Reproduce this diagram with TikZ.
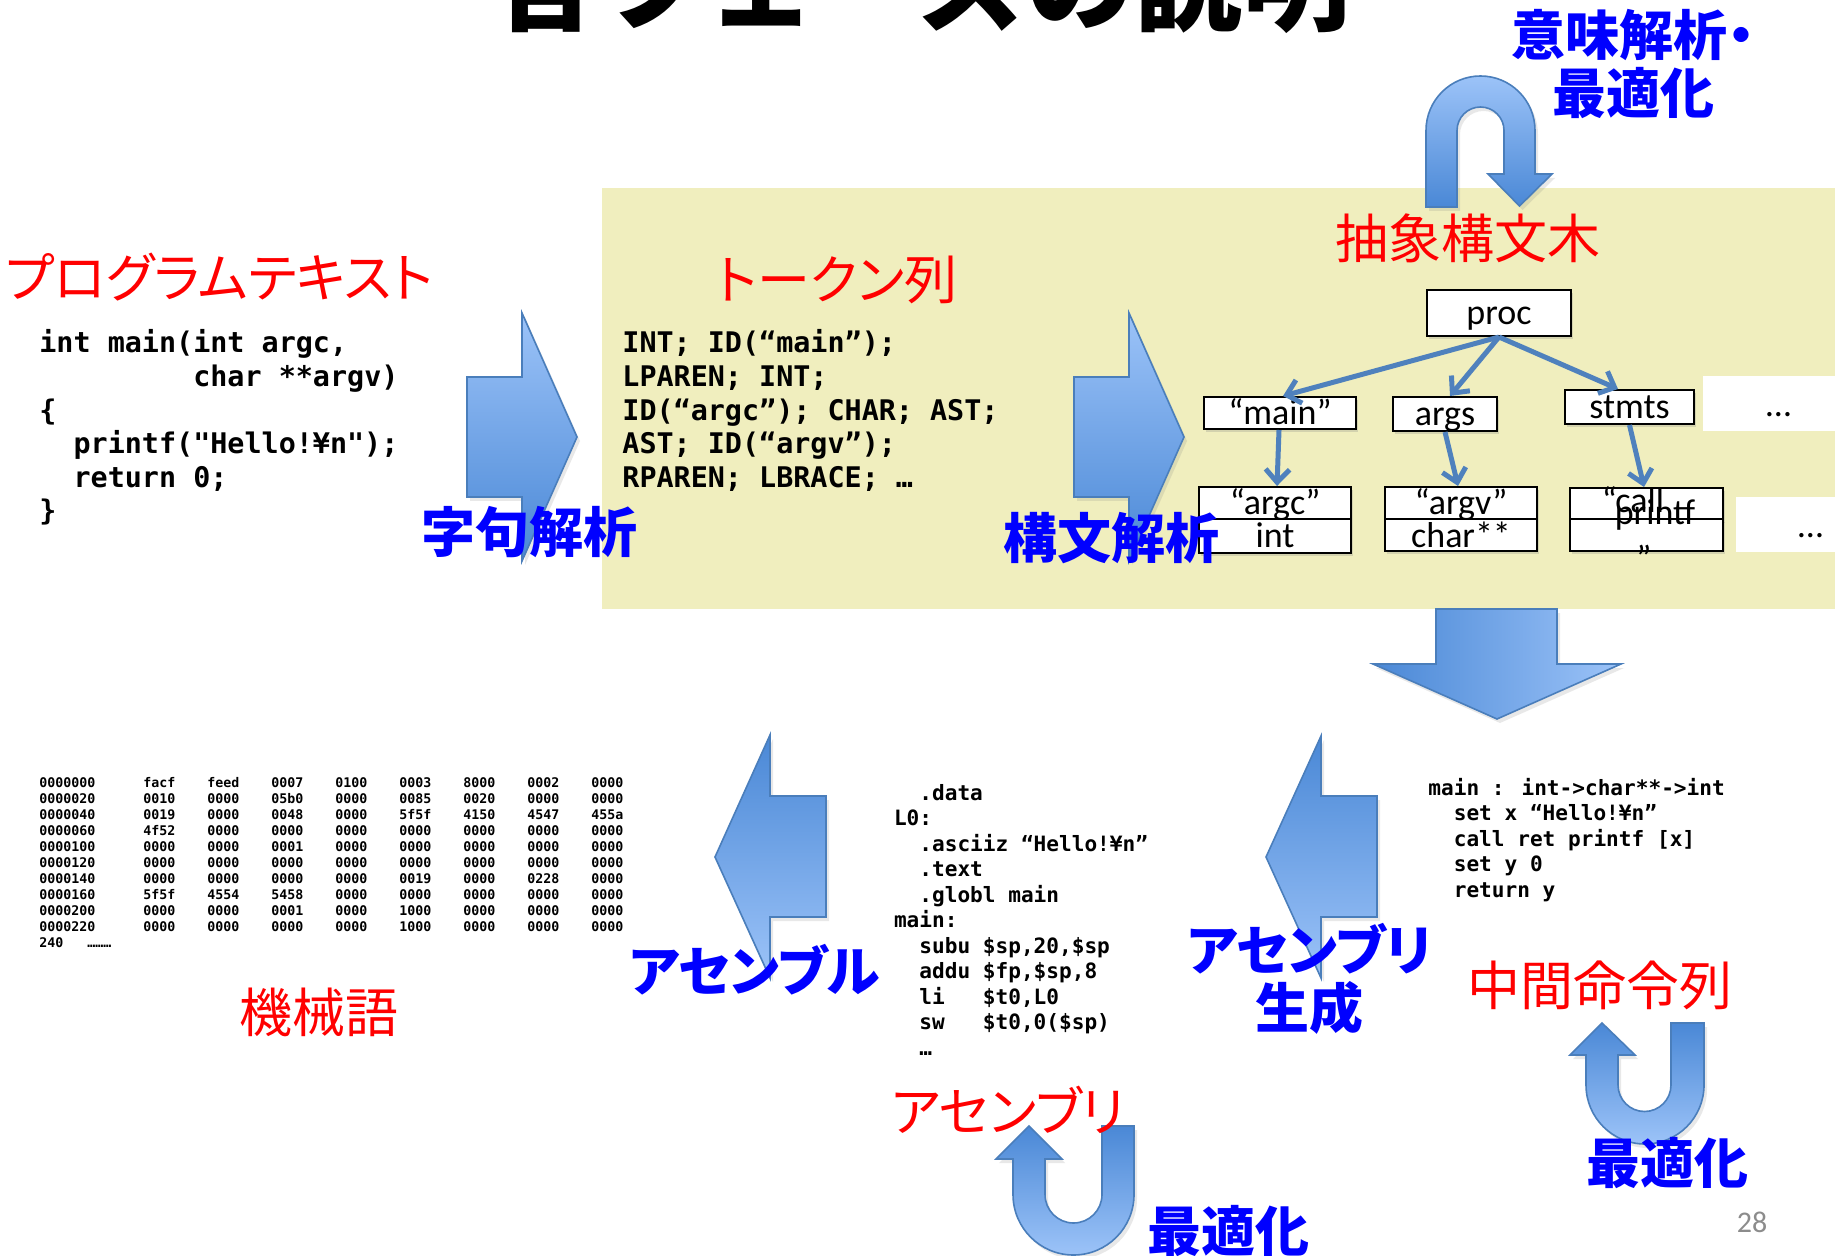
\documentclass[tikz,border=0pt]{standalone}
\usepackage{fontspec}
\usetikzlibrary{arrows.meta,shadows}
\newfontfamily\jpfont{Noto Sans CJK JP}[RawFeature=+palt]
\newfontfamily\jptitlefont{Noto Sans CJK JP}
\newfontfamily\codefont{DejaVu Sans Mono}
\newfontfamily\nodefont{Carlito}
\definecolor{panelY}{RGB}{240,238,190}
\definecolor{edgeB}{HTML}{4F81BD}
\definecolor{arrB}{HTML}{4A7EBB}
\definecolor{lightB}{HTML}{9CC3F8}
\definecolor{darkB}{HTML}{4A88D6}
\definecolor{pureR}{RGB}{255,0,0}
\definecolor{pureB}{RGB}{0,0,255}
\definecolor{pgGray}{HTML}{8C8C8C}
\newcommand\hexrow[9]{\makebox[52pt][l]{#1}\makebox[32pt][l]{#2}\makebox[32pt][l]{#3}\makebox[32pt][l]{#4}\makebox[32pt][l]{#5}\makebox[32pt][l]{#6}\makebox[32pt][l]{#7}\makebox[32pt][l]{#8}#9}
\tikzset{
  redlab/.style={text=pureR, inner sep=0pt, font=\jpfont\fontsize{26.5pt}{30pt}\selectfont},
  bluelab/.style={text=pureB, inner sep=0pt, align=center, font=\jpfont\bfseries\fontsize{27pt}{29pt}\selectfont},
  bigcode/.style={inner sep=0pt, anchor=base west, font=\codefont\bfseries\fontsize{14.2pt}{16.8pt}\selectfont},
  midcode/.style={inner sep=0pt, anchor=base west, font=\codefont\bfseries\fontsize{10.55pt}{12.75pt}\selectfont},
  hexcode/.style={inner sep=0pt, anchor=base west, font=\codefont\bfseries\fontsize{6.64pt}{8pt}\selectfont},
  treebox/.style={draw=black, line width=1pt, fill=white, inner sep=0pt,
    font=\nodefont\fontsize{18pt}{20pt}\selectfont, text height=14pt, text depth=2pt,
    drop shadow={shadow xshift=1pt, shadow yshift=-1.5pt, opacity=0.25}},
  treetext/.style={inner sep=0pt, anchor=base, font=\nodefont\fontsize{18pt}{20pt}\selectfont},
  treeedge/.style={draw=edgeB, line width=2.5pt, -{Straight Barb[length=6.5pt,width=12pt]}},
  blockarrow/.style={draw=arrB, line width=0.8pt,
    drop shadow={shadow xshift=1.5pt, shadow yshift=-2pt, opacity=0.18}},
  dotbox/.style={fill=white, inner sep=0pt},
}
\begin{document}
\begin{tikzpicture}[x=0.5pt, y=-0.5pt]
\useasboundingbox (0,0) rectangle (1841,1256);
\fill[white] (0,0) rectangle (1841,1256);

% title (cut off at top)
\begin{scope}
\clip (0,0) rectangle (1841,1256);
\node[inner sep=0pt, anchor=base west, font=\jptitlefont\bfseries\fontsize{54pt}{60pt}\selectfont] (title) at (491,23) {各フェーズの説明};
\end{scope}

% yellow panel
\fill[panelY] (602,188) rectangle (1835,609);
\node[dotbox, minimum width=66.5pt, minimum height=27.5pt] (dotsA) at (1769.5,403.5) {};
\node[dotbox, minimum width=50pt, minimum height=27.5pt] (dotsB) at (1786,524.5) {};
\node[treetext] (dotsAt) at (1778.5,417) {…};
\node[treetext] (dotsBt) at (1810.5,538) {…};

% tree
\node[treebox, minimum width=72pt, minimum height=23pt] (proc) at (1499,313) {proc};
\node[treebox, minimum width=76pt, minimum height=16pt] (main) at (1280,413) {“main”};
\node[treebox, minimum width=52pt, minimum height=17pt] (args) at (1445,414) {args};
\node[treebox, minimum width=64.5pt, minimum height=17pt] (stmts) at (1629.5,407) {stmts};
\node[treebox, minimum width=76pt, minimum height=16pt] (argc) at (1275,503) {“argc”};
\node[treebox, minimum width=76pt, minimum height=17pt] (int) at (1275,536) {int};
\node[treebox, minimum width=76.25pt, minimum height=16pt] (argv) at (1461,503) {“argv”};
\node[treebox, minimum width=76.25pt, minimum height=16pt] (charpp) at (1461,535) {char**};
\node[treebox, minimum width=76.5pt, minimum height=15pt] (callA) at (1646.5,504) {};
\node[treebox, minimum width=76.5pt, minimum height=16pt] (callB) at (1646.5,535) {};
\node[treetext] (callT1) at (1633,513) {“call};
\node[treetext] (callT2) at (1655,524) {printf};
\node[treetext] (callT3) at (1644,570) {”};

\draw[treeedge] (proc.south) -- ([xshift=1.5pt]main.north);
\draw[treeedge] (proc.south) -- ([xshift=2.5pt]args.north);
\draw[treeedge] (proc.south) -- ([xshift=-5.75pt]stmts.north);
\draw[treeedge] ([xshift=-0.5pt]main.south) -- ([xshift=1pt]argc.north);
\draw[treeedge] (args.south) -- ([xshift=-1.5pt]argv.north);
\draw[treeedge] (stmts.south) -- ([xshift=-1.25pt]callA.north);

% block arrows
\path[blockarrow, top color=lightB, bottom color=darkB]
  (467,377) -- (522,377) -- (522,313) -- (577,437) -- (522,561) -- (522,497) -- (467,497) -- cycle;
\path[blockarrow, top color=lightB, bottom color=darkB]
  (1074,377) -- (1129,377) -- (1129,313) -- (1184,437) -- (1129,561) -- (1129,497) -- (1074,497) -- cycle;
\path[blockarrow, left color=darkB, right color=lightB]
  (1436,609) -- (1557,609) -- (1557,664) -- (1621,664) -- (1497,719) -- (1373,664) -- (1436,664) -- cycle;
\path[blockarrow, top color=darkB, bottom color=lightB]
  (1377,796) -- (1321,796) -- (1321,736) -- (1266,857) -- (1321,978) -- (1321,917) -- (1377,917) -- cycle;
\path[blockarrow, top color=darkB, bottom color=lightB]
  (826,796) -- (770,796) -- (770,735) -- (715,857) -- (770,978) -- (770,917) -- (826,917) -- cycle;

% U-turn arrows
\path[blockarrow, top color=lightB, bottom color=darkB]
  (1426,207) -- (1426,130.5) arc[start angle=180, end angle=360, radius=54.5]
  -- (1535,174) -- (1552,174) -- (1519.5,206) -- (1488,174) -- (1504,174)
  -- (1504,130.5) arc[start angle=0, end angle=-180, radius=23.5] -- (1457,207) -- cycle;
\path[blockarrow, top color=darkB, bottom color=lightB]
  (1704,1023) -- (1704,1085) arc[start angle=0, end angle=180, radius=59]
  -- (1586,1055) -- (1570,1055) -- (1602,1023) -- (1635,1055) -- (1618,1055)
  -- (1618,1085) arc[start angle=180, end angle=0, radius=26.5] -- (1671,1023) -- cycle;
\path[blockarrow, top color=darkB, bottom color=lightB]
  (1134,1126) -- (1134,1194.5) arc[start angle=0, end angle=180, radius=60.5]
  -- (1013,1159) -- (996,1159) -- (1029,1126) -- (1062,1159) -- (1045,1159)
  -- (1045,1194.5) arc[start angle=180, end angle=0, radius=28.5] -- (1102,1126) -- cycle;

% program text
\node[bigcode] (p0) at (39,353) {int main(int argc,};
\node[bigcode] (p1) at (192.9,386.6) {char **argv)};
\node[bigcode] (p2) at (39,420.2) {\{};
\node[bigcode] (p3) at (73.2,453.8) {printf("Hello!¥n");};
\node[bigcode] (p4) at (73.2,487.4) {return 0;};
\node[bigcode] (p5) at (39,521) {\}};

% token list
\node[bigcode] (t0) at (622,353) {INT; ID(“main”);};
\node[bigcode] (t1) at (622,386.6) {LPAREN; INT;};
\node[bigcode] (t2) at (622,420.2) {ID(“argc”); CHAR; AST;};
\node[bigcode] (t3) at (622,453.8) {AST; ID(“argv”);};
\node[bigcode] (t4) at (622,487.4) {RPAREN; LBRACE; …};

% assembly
\node[midcode] (a0) at (919,800) {.data};
\node[midcode] (a1) at (893.6,825.5) {L0:};
\node[midcode] (a2) at (919,851) {.asciiz “Hello!¥n”};
\node[midcode] (a3) at (919,876.5) {.text};
\node[midcode] (a4) at (919,902) {.globl main};
\node[midcode] (a5) at (893.6,927.5) {main:};
\node[midcode] (a6) at (919,953) {subu \$sp,20,\$sp};
\node[midcode] (a7) at (919,978.5) {addu \$fp,\$sp,8};
\node[midcode] (a8) at (919,1004) {li\ \ \ \$t0,L0};
\node[midcode] (a9) at (919,1029.5) {sw\ \ \ \$t0,0(\$sp)};
\node[midcode] (a10) at (919,1055) {…};

% intermediate code
\node[midcode] (i0) at (1428,795) {main : int->char**->int};
\node[midcode] (i1) at (1453.4,820.5) {set x “Hello!¥n”};
\node[midcode] (i2) at (1453.4,846) {call ret printf [x]};
\node[midcode] (i3) at (1453.4,871.5) {set y 0};
\node[midcode] (i4) at (1453.4,897) {return y};

% machine code
\node[hexcode] (h0) at (39,787.7) {\hexrow{0000000}{facf}{feed}{0007}{0100}{0003}{8000}{0002}{0000}};
\node[hexcode] (h1) at (39,803.7) {\hexrow{0000020}{0010}{0000}{05b0}{0000}{0085}{0020}{0000}{0000}};
\node[hexcode] (h2) at (39,819.7) {\hexrow{0000040}{0019}{0000}{0048}{0000}{5f5f}{4150}{4547}{455a}};
\node[hexcode] (h3) at (39,835.7) {\hexrow{0000060}{4f52}{0000}{0000}{0000}{0000}{0000}{0000}{0000}};
\node[hexcode] (h4) at (39,851.7) {\hexrow{0000100}{0000}{0000}{0001}{0000}{0000}{0000}{0000}{0000}};
\node[hexcode] (h5) at (39,867.7) {\hexrow{0000120}{0000}{0000}{0000}{0000}{0000}{0000}{0000}{0000}};
\node[hexcode] (h6) at (39,883.7) {\hexrow{0000140}{0000}{0000}{0000}{0000}{0019}{0000}{0228}{0000}};
\node[hexcode] (h7) at (39,899.7) {\hexrow{0000160}{5f5f}{4554}{5458}{0000}{0000}{0000}{0000}{0000}};
\node[hexcode] (h8) at (39,915.7) {\hexrow{0000200}{0000}{0000}{0001}{0000}{1000}{0000}{0000}{0000}};
\node[hexcode] (h9) at (39,931.7) {\hexrow{0000220}{0000}{0000}{0000}{0000}{1000}{0000}{0000}{0000}};
\node[hexcode] (h10) at (39,947.7) {\makebox[24pt][l]{240}………};

% red labels
\node[redlab] (lprog) at (219.5,277.5) {プログラムテキスト};
\node[redlab] (ltok) at (837,280) {トークン列};
\node[redlab] (last) at (1467.5,238.5) {抽象構文木};
\node[redlab] (lmach) at (319,1012.5) {機械語};
\node[redlab] (lasm) at (1008,1109.5) {アセンブリ};
\node[redlab] (lmid) at (1600,985.5) {中間命令列};

% blue labels
\node[bluelab] (blex) at (529.5,532) {字句解析};
\node[bluelab] (bparse) at (1111,538.5) {構文解析};
\node[bluelab] (bassemble) at (754.5,970) {アセンブル};
\node[bluelab] (basmgen) at (1309.5,978.75) {アセンブリ\\生成};
\node[bluelab] (bopt1) at (1667.5,1163.5) {最適化};
\node[bluelab] (bopt2) at (1228,1231.5) {最適化};
\node[bluelab] (bsem) at (1633,64) {意味解析・\\最適化};

% page number
\node[inner sep=0pt, text=pgGray, font=\nodefont\fontsize{15pt}{18pt}\selectfont] (pgno) at (1752,1222) {28};
\end{tikzpicture}
\end{document}
